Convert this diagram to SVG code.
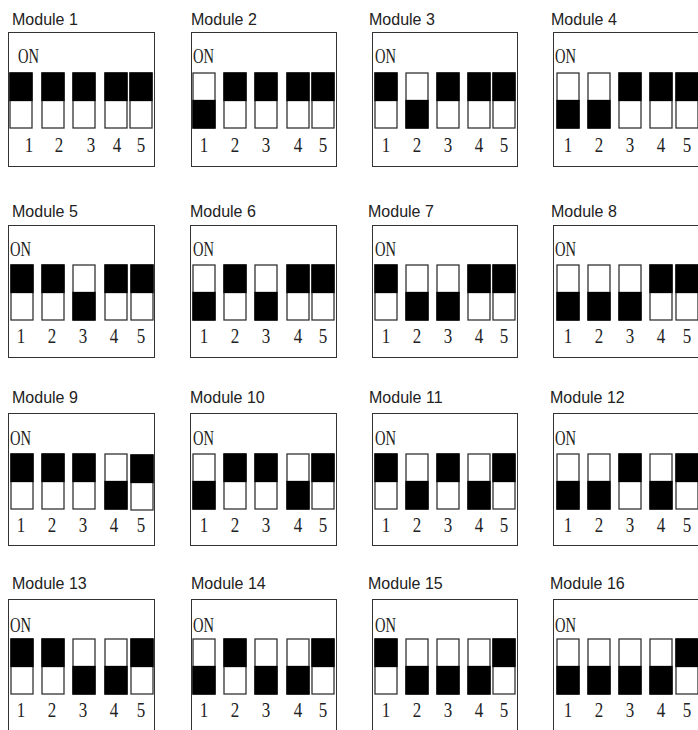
<svg xmlns="http://www.w3.org/2000/svg" xmlns:xlink="http://www.w3.org/1999/xlink" width="698" height="730" viewBox="0 0 698 730">
<style>
.bg{fill:#fff}
.box{fill:none;stroke:#333;stroke-width:1}
.title{font-family:"Liberation Sans",Arial,sans-serif;font-size:16px;fill:#222}
.on{font-family:"Liberation Serif","Times New Roman",serif;font-size:20px;fill:#222}
.dg{font-family:"Liberation Serif","Times New Roman",serif;font-size:21px;fill:#222;text-anchor:middle}
.sw{fill:#fff;stroke:#333;stroke-width:1.3}
.blk{fill:#000;stroke:#000;stroke-width:1.3}
</style>
<defs>
<g id="swT"><rect class="sw" x="0" y="0" width="22" height="55"/><rect class="blk" x="0" y="0" width="22" height="27.5"/></g>
<g id="swB"><rect class="sw" x="0" y="0" width="22" height="55"/><rect class="blk" x="0" y="27.5" width="22" height="27.5"/></g>
</defs>
<rect class="bg" x="0" y="0" width="698" height="730"/>
<g id="connectors"/>

<g id="module1">
<text class="title" x="12" y="25">Module 1</text>
<rect class="box" x="8.5" y="32.5" width="146" height="134"/>
<text class="on" x="18" y="63" textLength="21" lengthAdjust="spacingAndGlyphs">ON</text>
<use xlink:href="#swT" x="10" y="73"/><use xlink:href="#swT" x="42" y="73"/><use xlink:href="#swT" x="73" y="73"/><use xlink:href="#swT" x="105" y="73"/><use xlink:href="#swT" x="130" y="73"/>
<text class="dg" x="29" y="152" textLength="8.5" lengthAdjust="spacingAndGlyphs">1</text><text class="dg" x="59" y="152" textLength="8.5" lengthAdjust="spacingAndGlyphs">2</text><text class="dg" x="91" y="152" textLength="8.5" lengthAdjust="spacingAndGlyphs">3</text><text class="dg" x="117" y="152" textLength="8.5" lengthAdjust="spacingAndGlyphs">4</text><text class="dg" x="141" y="152" textLength="8.5" lengthAdjust="spacingAndGlyphs">5</text>
</g>

<g id="module2">
<text class="title" x="191" y="25">Module 2</text>
<rect class="box" x="191.5" y="32.5" width="145" height="134"/>
<text class="on" x="193" y="63" textLength="21" lengthAdjust="spacingAndGlyphs">ON</text>
<use xlink:href="#swB" x="193" y="73"/><use xlink:href="#swT" x="224" y="73"/><use xlink:href="#swT" x="255" y="73"/><use xlink:href="#swT" x="287" y="73"/><use xlink:href="#swT" x="312" y="73"/>
<text class="dg" x="204" y="152" textLength="8.5" lengthAdjust="spacingAndGlyphs">1</text><text class="dg" x="235" y="152" textLength="8.5" lengthAdjust="spacingAndGlyphs">2</text><text class="dg" x="266" y="152" textLength="8.5" lengthAdjust="spacingAndGlyphs">3</text><text class="dg" x="298" y="152" textLength="8.5" lengthAdjust="spacingAndGlyphs">4</text><text class="dg" x="323" y="152" textLength="8.5" lengthAdjust="spacingAndGlyphs">5</text>
</g>

<g id="module3">
<text class="title" x="369" y="25">Module 3</text>
<rect class="box" x="372.5" y="32.5" width="145" height="134"/>
<text class="on" x="375" y="63" textLength="21" lengthAdjust="spacingAndGlyphs">ON</text>
<use xlink:href="#swT" x="375" y="73"/><use xlink:href="#swB" x="406" y="73"/><use xlink:href="#swT" x="437" y="73"/><use xlink:href="#swT" x="468" y="73"/><use xlink:href="#swT" x="493" y="73"/>
<text class="dg" x="386" y="152" textLength="8.5" lengthAdjust="spacingAndGlyphs">1</text><text class="dg" x="417" y="152" textLength="8.5" lengthAdjust="spacingAndGlyphs">2</text><text class="dg" x="448" y="152" textLength="8.5" lengthAdjust="spacingAndGlyphs">3</text><text class="dg" x="479" y="152" textLength="8.5" lengthAdjust="spacingAndGlyphs">4</text><text class="dg" x="504" y="152" textLength="8.5" lengthAdjust="spacingAndGlyphs">5</text>
</g>

<g id="module4">
<text class="title" x="551" y="25">Module 4</text>
<rect class="box" x="553.5" y="32.5" width="146" height="134"/>
<text class="on" x="555" y="63" textLength="21" lengthAdjust="spacingAndGlyphs">ON</text>
<use xlink:href="#swB" x="557" y="73"/><use xlink:href="#swB" x="588" y="73"/><use xlink:href="#swT" x="619" y="73"/><use xlink:href="#swT" x="650" y="73"/><use xlink:href="#swT" x="676" y="73"/>
<text class="dg" x="568" y="152" textLength="8.5" lengthAdjust="spacingAndGlyphs">1</text><text class="dg" x="599" y="152" textLength="8.5" lengthAdjust="spacingAndGlyphs">2</text><text class="dg" x="630" y="152" textLength="8.5" lengthAdjust="spacingAndGlyphs">3</text><text class="dg" x="661" y="152" textLength="8.5" lengthAdjust="spacingAndGlyphs">4</text><text class="dg" x="687" y="152" textLength="8.5" lengthAdjust="spacingAndGlyphs">5</text>
</g>

<g id="module5">
<text class="title" x="12" y="217">Module 5</text>
<rect class="box" x="8.5" y="225.5" width="146" height="132"/>
<text class="on" x="10" y="256" textLength="21" lengthAdjust="spacingAndGlyphs">ON</text>
<use xlink:href="#swT" x="11" y="265"/><use xlink:href="#swT" x="42" y="265"/><use xlink:href="#swB" x="73" y="265"/><use xlink:href="#swT" x="105" y="265"/><use xlink:href="#swT" x="131" y="265"/>
<text class="dg" x="21" y="343" textLength="8.5" lengthAdjust="spacingAndGlyphs">1</text><text class="dg" x="52" y="343" textLength="8.5" lengthAdjust="spacingAndGlyphs">2</text><text class="dg" x="83" y="343" textLength="8.5" lengthAdjust="spacingAndGlyphs">3</text><text class="dg" x="114" y="343" textLength="8.5" lengthAdjust="spacingAndGlyphs">4</text><text class="dg" x="141" y="343" textLength="8.5" lengthAdjust="spacingAndGlyphs">5</text>
</g>

<g id="module6">
<text class="title" x="190" y="217">Module 6</text>
<rect class="box" x="190.5" y="225.5" width="146" height="132"/>
<text class="on" x="193" y="256" textLength="21" lengthAdjust="spacingAndGlyphs">ON</text>
<use xlink:href="#swB" x="193" y="265"/><use xlink:href="#swT" x="224" y="265"/><use xlink:href="#swB" x="255" y="265"/><use xlink:href="#swT" x="287" y="265"/><use xlink:href="#swT" x="312" y="265"/>
<text class="dg" x="204" y="343" textLength="8.5" lengthAdjust="spacingAndGlyphs">1</text><text class="dg" x="235" y="343" textLength="8.5" lengthAdjust="spacingAndGlyphs">2</text><text class="dg" x="266" y="343" textLength="8.5" lengthAdjust="spacingAndGlyphs">3</text><text class="dg" x="298" y="343" textLength="8.5" lengthAdjust="spacingAndGlyphs">4</text><text class="dg" x="323" y="343" textLength="8.5" lengthAdjust="spacingAndGlyphs">5</text>
</g>

<g id="module7">
<text class="title" x="368" y="217">Module 7</text>
<rect class="box" x="372.5" y="225.5" width="145" height="132"/>
<text class="on" x="375" y="256" textLength="21" lengthAdjust="spacingAndGlyphs">ON</text>
<use xlink:href="#swT" x="375" y="265"/><use xlink:href="#swB" x="406" y="265"/><use xlink:href="#swB" x="437" y="265"/><use xlink:href="#swT" x="468" y="265"/><use xlink:href="#swT" x="493" y="265"/>
<text class="dg" x="386" y="343" textLength="8.5" lengthAdjust="spacingAndGlyphs">1</text><text class="dg" x="417" y="343" textLength="8.5" lengthAdjust="spacingAndGlyphs">2</text><text class="dg" x="448" y="343" textLength="8.5" lengthAdjust="spacingAndGlyphs">3</text><text class="dg" x="479" y="343" textLength="8.5" lengthAdjust="spacingAndGlyphs">4</text><text class="dg" x="504" y="343" textLength="8.5" lengthAdjust="spacingAndGlyphs">5</text>
</g>

<g id="module8">
<text class="title" x="551" y="217">Module 8</text>
<rect class="box" x="553.5" y="225.5" width="146" height="132"/>
<text class="on" x="555" y="256" textLength="21" lengthAdjust="spacingAndGlyphs">ON</text>
<use xlink:href="#swB" x="557" y="265"/><use xlink:href="#swB" x="588" y="265"/><use xlink:href="#swB" x="619" y="265"/><use xlink:href="#swT" x="650" y="265"/><use xlink:href="#swT" x="676" y="265"/>
<text class="dg" x="568" y="343" textLength="8.5" lengthAdjust="spacingAndGlyphs">1</text><text class="dg" x="599" y="343" textLength="8.5" lengthAdjust="spacingAndGlyphs">2</text><text class="dg" x="630" y="343" textLength="8.5" lengthAdjust="spacingAndGlyphs">3</text><text class="dg" x="661" y="343" textLength="8.5" lengthAdjust="spacingAndGlyphs">4</text><text class="dg" x="687" y="343" textLength="8.5" lengthAdjust="spacingAndGlyphs">5</text>
</g>

<g id="module9">
<text class="title" x="12" y="403">Module 9</text>
<rect class="box" x="8.5" y="413.5" width="146" height="132"/>
<text class="on" x="10" y="445" textLength="21" lengthAdjust="spacingAndGlyphs">ON</text>
<use xlink:href="#swT" x="11" y="454"/><use xlink:href="#swT" x="42" y="454"/><use xlink:href="#swT" x="73" y="454"/><use xlink:href="#swB" x="105" y="454"/><use xlink:href="#swT" x="131" y="455"/>
<text class="dg" x="21" y="532" textLength="8.5" lengthAdjust="spacingAndGlyphs">1</text><text class="dg" x="52" y="532" textLength="8.5" lengthAdjust="spacingAndGlyphs">2</text><text class="dg" x="83" y="532" textLength="8.5" lengthAdjust="spacingAndGlyphs">3</text><text class="dg" x="114" y="532" textLength="8.5" lengthAdjust="spacingAndGlyphs">4</text><text class="dg" x="141" y="532" textLength="8.5" lengthAdjust="spacingAndGlyphs">5</text>
</g>

<g id="module10">
<text class="title" x="190" y="403">Module 10</text>
<rect class="box" x="190.5" y="413.5" width="146" height="132"/>
<text class="on" x="193" y="445" textLength="21" lengthAdjust="spacingAndGlyphs">ON</text>
<use xlink:href="#swB" x="193" y="454"/><use xlink:href="#swT" x="224" y="454"/><use xlink:href="#swT" x="255" y="454"/><use xlink:href="#swB" x="287" y="454"/><use xlink:href="#swT" x="312" y="454"/>
<text class="dg" x="204" y="532" textLength="8.5" lengthAdjust="spacingAndGlyphs">1</text><text class="dg" x="235" y="532" textLength="8.5" lengthAdjust="spacingAndGlyphs">2</text><text class="dg" x="266" y="532" textLength="8.5" lengthAdjust="spacingAndGlyphs">3</text><text class="dg" x="298" y="532" textLength="8.5" lengthAdjust="spacingAndGlyphs">4</text><text class="dg" x="323" y="532" textLength="8.5" lengthAdjust="spacingAndGlyphs">5</text>
</g>

<g id="module11">
<text class="title" x="369" y="403">Module 11</text>
<rect class="box" x="372.5" y="413.5" width="145" height="132"/>
<text class="on" x="375" y="445" textLength="21" lengthAdjust="spacingAndGlyphs">ON</text>
<use xlink:href="#swT" x="375" y="454"/><use xlink:href="#swB" x="406" y="454"/><use xlink:href="#swT" x="437" y="454"/><use xlink:href="#swB" x="468" y="454"/><use xlink:href="#swT" x="493" y="454"/>
<text class="dg" x="386" y="532" textLength="8.5" lengthAdjust="spacingAndGlyphs">1</text><text class="dg" x="417" y="532" textLength="8.5" lengthAdjust="spacingAndGlyphs">2</text><text class="dg" x="448" y="532" textLength="8.5" lengthAdjust="spacingAndGlyphs">3</text><text class="dg" x="479" y="532" textLength="8.5" lengthAdjust="spacingAndGlyphs">4</text><text class="dg" x="504" y="532" textLength="8.5" lengthAdjust="spacingAndGlyphs">5</text>
</g>

<g id="module12">
<text class="title" x="550" y="403">Module 12</text>
<rect class="box" x="553.5" y="413.5" width="146" height="132"/>
<text class="on" x="555" y="445" textLength="21" lengthAdjust="spacingAndGlyphs">ON</text>
<use xlink:href="#swB" x="557" y="454"/><use xlink:href="#swB" x="588" y="454"/><use xlink:href="#swT" x="619" y="454"/><use xlink:href="#swB" x="650" y="454"/><use xlink:href="#swT" x="676" y="454"/>
<text class="dg" x="568" y="532" textLength="8.5" lengthAdjust="spacingAndGlyphs">1</text><text class="dg" x="599" y="532" textLength="8.5" lengthAdjust="spacingAndGlyphs">2</text><text class="dg" x="630" y="532" textLength="8.5" lengthAdjust="spacingAndGlyphs">3</text><text class="dg" x="661" y="532" textLength="8.5" lengthAdjust="spacingAndGlyphs">4</text><text class="dg" x="687" y="532" textLength="8.5" lengthAdjust="spacingAndGlyphs">5</text>
</g>

<g id="module13">
<text class="title" x="12" y="589">Module 13</text>
<rect class="box" x="8.5" y="599.5" width="146" height="140"/>
<text class="on" x="10" y="632" textLength="21" lengthAdjust="spacingAndGlyphs">ON</text>
<use xlink:href="#swT" x="11" y="639"/><use xlink:href="#swT" x="42" y="639"/><use xlink:href="#swB" x="73" y="639"/><use xlink:href="#swB" x="105" y="639"/><use xlink:href="#swT" x="131" y="639"/>
<text class="dg" x="21" y="717" textLength="8.5" lengthAdjust="spacingAndGlyphs">1</text><text class="dg" x="52" y="717" textLength="8.5" lengthAdjust="spacingAndGlyphs">2</text><text class="dg" x="83" y="717" textLength="8.5" lengthAdjust="spacingAndGlyphs">3</text><text class="dg" x="114" y="717" textLength="8.5" lengthAdjust="spacingAndGlyphs">4</text><text class="dg" x="141" y="717" textLength="8.5" lengthAdjust="spacingAndGlyphs">5</text>
</g>

<g id="module14">
<text class="title" x="191" y="589">Module 14</text>
<rect class="box" x="191.5" y="599.5" width="145" height="140"/>
<text class="on" x="193" y="632" textLength="21" lengthAdjust="spacingAndGlyphs">ON</text>
<use xlink:href="#swB" x="193" y="639"/><use xlink:href="#swT" x="224" y="639"/><use xlink:href="#swB" x="255" y="639"/><use xlink:href="#swB" x="287" y="639"/><use xlink:href="#swT" x="312" y="639"/>
<text class="dg" x="204" y="717" textLength="8.5" lengthAdjust="spacingAndGlyphs">1</text><text class="dg" x="235" y="717" textLength="8.5" lengthAdjust="spacingAndGlyphs">2</text><text class="dg" x="266" y="717" textLength="8.5" lengthAdjust="spacingAndGlyphs">3</text><text class="dg" x="298" y="717" textLength="8.5" lengthAdjust="spacingAndGlyphs">4</text><text class="dg" x="323" y="717" textLength="8.5" lengthAdjust="spacingAndGlyphs">5</text>
</g>

<g id="module15">
<text class="title" x="368" y="589">Module 15</text>
<rect class="box" x="372.5" y="599.5" width="145" height="140"/>
<text class="on" x="375" y="632" textLength="21" lengthAdjust="spacingAndGlyphs">ON</text>
<use xlink:href="#swT" x="375" y="639"/><use xlink:href="#swB" x="406" y="639"/><use xlink:href="#swB" x="437" y="639"/><use xlink:href="#swB" x="468" y="639"/><use xlink:href="#swT" x="493" y="639"/>
<text class="dg" x="386" y="717" textLength="8.5" lengthAdjust="spacingAndGlyphs">1</text><text class="dg" x="417" y="717" textLength="8.5" lengthAdjust="spacingAndGlyphs">2</text><text class="dg" x="448" y="717" textLength="8.5" lengthAdjust="spacingAndGlyphs">3</text><text class="dg" x="479" y="717" textLength="8.5" lengthAdjust="spacingAndGlyphs">4</text><text class="dg" x="504" y="717" textLength="8.5" lengthAdjust="spacingAndGlyphs">5</text>
</g>

<g id="module16">
<text class="title" x="550" y="589">Module 16</text>
<rect class="box" x="553.5" y="599.5" width="146" height="140"/>
<text class="on" x="555" y="632" textLength="21" lengthAdjust="spacingAndGlyphs">ON</text>
<use xlink:href="#swB" x="557" y="639"/><use xlink:href="#swB" x="588" y="639"/><use xlink:href="#swB" x="619" y="639"/><use xlink:href="#swB" x="650" y="639"/><use xlink:href="#swT" x="676" y="639"/>
<text class="dg" x="568" y="717" textLength="8.5" lengthAdjust="spacingAndGlyphs">1</text><text class="dg" x="599" y="717" textLength="8.5" lengthAdjust="spacingAndGlyphs">2</text><text class="dg" x="630" y="717" textLength="8.5" lengthAdjust="spacingAndGlyphs">3</text><text class="dg" x="661" y="717" textLength="8.5" lengthAdjust="spacingAndGlyphs">4</text><text class="dg" x="687" y="717" textLength="8.5" lengthAdjust="spacingAndGlyphs">5</text>
</g>
</svg>
